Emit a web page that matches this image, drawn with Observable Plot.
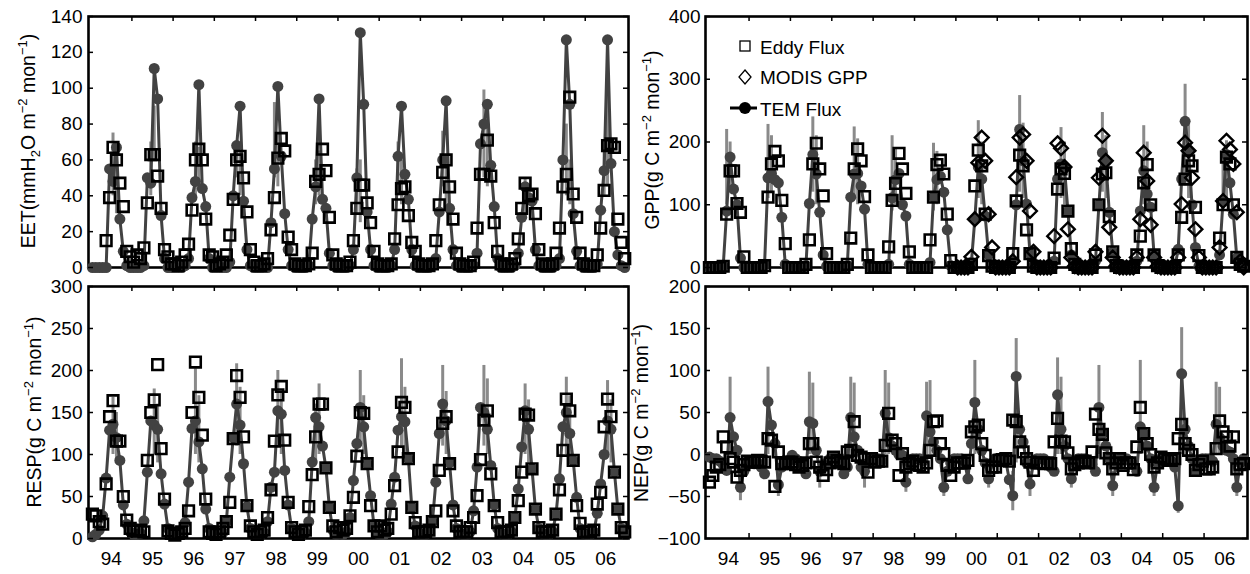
<!DOCTYPE html>
<html><head><meta charset="utf-8">
<script src="https://cdn.jsdelivr.net/npm/d3@7"></script>
<script src="https://cdn.jsdelivr.net/npm/@observablehq/plot@0.6"></script>
<style>
body{margin:0;background:#fff;}
#wrap{position:relative;width:1250px;height:574px;font-family:"Liberation Sans",Arial,Helvetica,sans-serif;color:#000;overflow:hidden}
#wrap svg.plot{position:absolute;overflow:visible}
.ylab{position:absolute;white-space:nowrap;font-size:19.5px;transform:translate(-50%,-50%) rotate(-90deg);line-height:1}
.ylab sup,.ylab sub{font-size:13px}
.leg{position:absolute;font-size:19px;white-space:nowrap;line-height:1}
</style></head><body><div id="wrap"></div>
<script>
const years = [1994,1995,1996,1997,1998,1999,2000,2001,2002,2003,2004,2005,2006];
const yearLabels = ["94","95","96","97","98","99","00","01","02","03","04","05","06"];

// EET (mmH2O m-2 mon-1), monthly Jan..Dec per year
const eetTEM = [
[0,0,0,0,0,55,48,67,27,9,1,0],
[0,0,0,1,50,47,111,94,29,5,0,0],
[0,0,0,1,5,39,48,102,44,34,5,0],
[0,0,0,0,3,40,68,90,37,10,1,0],
[0,0,0,0,25,55,101,62,30,10,1,0],
[0,0,0,1,27,45,94,38,33,8,1,0],
[0,0,0,1,10,50,131,91,31,10,1,0],
[0,0,0,1,10,62,90,52,38,10,1,0],
[0,0,0,1,5,31,60,93,33,10,1,0],
[0,0,0,1,8,69,80,91,57,34,5,0],
[0,0,0,1,8,28,45,39,37,10,1,0],
[0,0,0,1,5,60,127,91,30,9,1,0],
[0,0,0,2,32,54,127,58,20,7,1,0]];
const eetEddy = [
[null,null,null,null,15,39,67,60,47,34,9,6],
[3,7,5,11,36,63,63,51,33,10,6,2],
[2,1,3,7,13,32,60,66,60,27,7,6],
[1,2,3,7,18,38,60,62,50,31,10,3],
[1,1,2,5,21,39,61,72,65,17,10,2],
[1,1,1,2,8,48,52,66,54,28,7,2],
[1,1,1,3,15,33,46,46,36,25,9,2],
[1,1,1,2,16,35,44,45,29,14,9,2],
[1,1,1,2,15,35,53,60,45,27,8,2],
[1,1,1,3,22,52,52,71,51,25,9,2],
[1,1,2,5,16,33,47,40,41,30,10,2],
[1,1,2,8,22,45,52,95,41,28,8,2],
[1,1,1,7,22,43,68,69,67,27,14,5]];
// [year, month, low, high]
const eetBars = [
[1994,7,40,75],[1994,8,30,70],[1995,6,40,70],[1995,7,60,90],[1996,7,40,70],[1996,8,45,67],
[1997,7,50,70],[1997,8,40,65],[1998,6,50,92],[1998,7,45,75],[1999,7,40,65],[1999,6,35,60],
[2000,7,25,60],[2000,6,30,55],[2001,6,40,70],[2001,7,35,60],[2002,7,45,76],[2002,8,35,62],
[2003,7,50,99],[2003,8,45,88],[2004,7,30,50],[2005,7,40,80],[2005,8,35,60],[2006,7,45,96],[2006,6,40,70]];

// GPP (g C m-2 mon-1)
const gppTEM = [
[0,0,0,0,2,90,176,125,100,15,0,0],
[0,0,0,0,5,143,150,140,135,80,5,0],
[0,0,0,0,3,102,180,149,88,20,2,0],
[0,0,0,0,3,112,149,150,130,93,5,0],
[0,0,0,0,5,111,140,150,100,82,5,0],
[0,0,0,0,8,112,140,145,120,60,3,0],
[0,0,0,0,8,77,160,141,82,20,2,0],
[0,0,0,0,10,100,220,170,101,22,2,0],
[0,0,0,0,10,141,165,159,90,20,2,0],
[0,0,0,0,10,100,183,170,88,25,2,0],
[0,0,0,0,10,90,154,117,96,20,2,0],
[0,0,0,0,29,141,233,186,100,32,2,0],
[0,0,0,0,20,106,180,135,85,15,2,0]];
const gppEddy = [
[0,0,0,0,2,85,154,154,102,88,17,0],
[0,0,0,0,3,112,165,185,170,107,38,0],
[0,0,0,0,5,44,165,198,157,114,22,0],
[0,0,0,0,5,47,157,189,170,113,20,0],
[0,0,0,0,33,107,134,182,157,118,25,0],
[0,0,0,0,44,112,164,171,149,85,11,0],
[0,0,0,0,5,130,187,162,85,19,2,0],
[0,0,0,0,22,106,179,162,60,22,2,0],
[0,0,0,0,15,125,157,150,90,30,5,0],
[0,0,0,0,20,100,149,151,81,25,3,0],
[0,0,0,0,20,50,135,164,100,20,3,0],
[0,0,0,0,20,80,141,170,162,96,19,0],
[0,0,0,0,47,100,176,165,100,16,5,2]];
const modisYears = [2000,2001,2002,2003,2004,2005,2006];
const gppMODIS = [
[0,0,0,0,17,77,167,207,170,85,32,0],
[0,0,0,0,10,144,207,212,170,90,25,0],
[0,0,0,0,50,198,190,160,61,16,2,0],
[0,0,0,0,25,143,210,170,64,16,2,0],
[0,0,0,0,16,77,183,138,68,16,2,0],
[0,0,0,0,16,101,199,186,143,61,16,0],
[0,0,0,0,32,106,202,188,165,88,10,0]];
const gppBars = [
[1994,6,100,220],[1994,7,120,200],[1995,6,110,228],[1995,7,120,210],[1996,7,120,240],[1996,8,100,210],
[1997,7,110,224],[1997,8,100,205],[1998,6,90,210],[1998,7,100,190],[1999,6,90,198],[1999,7,100,185],
[2000,7,110,234],[2000,8,100,200],[2001,7,120,274],[2001,8,110,230],[2002,7,110,223],[2002,8,100,200],
[2003,7,120,247],[2003,8,110,210],[2004,7,100,226],[2004,8,90,200],[2005,7,130,292],[2005,8,110,230],
[2006,7,110,202],[2006,6,90,180]];

// RESP (g C m-2 mon-1)
const respTEM = [
[2,5,10,27,72,129,136,120,93,40,17,8],
[5,5,6,21,79,140,135,130,77,41,12,6],
[4,5,8,19,67,131,140,115,83,35,12,6],
[4,5,7,20,73,120,160,135,89,38,12,6],
[4,5,7,20,61,79,152,148,81,40,12,6],
[4,5,7,20,91,144,133,110,84,37,10,5],
[6,5,8,25,69,113,156,133,89,51,15,6],
[5,5,8,41,73,129,145,139,95,37,15,6],
[5,5,8,20,67,125,160,140,90,40,12,6],
[5,5,8,33,85,156,150,130,87,40,12,6],
[5,5,8,25,59,109,152,130,83,35,12,6],
[5,5,8,29,71,133,150,125,93,49,12,6],
[5,5,8,30,65,100,140,130,79,35,12,6]];
const respEddy = [
[29,27,20,17,65,145,164,116,116,50,22,12],
[9,9,10,8,93,150,165,207,107,47,9,6],
[4,6,8,12,33,150,210,168,123,47,8,6],
[5,8,12,20,43,119,194,168,121,39,15,8],
[5,8,10,25,58,116,171,181,117,43,13,8],
[5,8,10,38,76,121,160,160,84,37,15,8],
[13,10,12,27,49,98,150,149,89,39,15,8],
[15,10,12,29,63,103,162,156,95,37,19,8],
[8,8,10,20,33,81,137,145,89,33,15,8],
[8,8,13,25,51,94,141,152,77,39,19,8],
[8,8,10,25,45,79,148,147,83,35,13,8],
[8,8,10,29,58,105,166,152,93,39,18,8],
[8,8,10,41,55,133,166,145,79,35,13,8]];
const respBars = [
[1994,7,100,168],[1994,8,90,150],[1995,7,100,178],[1995,8,90,160],[1996,7,100,202],[1996,8,90,170],
[1997,7,110,208],[1997,8,100,180],[1998,7,110,200],[1998,8,100,175],[1999,7,100,184],[1999,6,90,160],
[2000,7,110,200],[2000,8,100,170],[2001,7,110,214],[2001,8,100,180],[2002,7,110,206],[2002,8,100,175],
[2003,7,110,206],[2003,8,100,190],[2004,7,100,184],[2004,8,90,165],[2005,7,100,192],[2005,8,90,170],
[2006,7,100,188],[2006,8,90,165]];

// NEP (g C m-2 mon-1)
const nepTEM = [
[-3,-5,-5,-8,-12,-19,44,21,5,-39,-20,-8],
[-8,-11,-10,-15,-23,63,35,13,-36,-15,-10,-8],
[-1,-5,-8,-12,-23,39,37,5,-20,-15,-10,-5],
[-3,-5,-8,-23,-15,44,21,5,-15,-20,-10,-5],
[-5,-5,-8,49,20,10,5,0,-1,-33,-10,-5],
[-5,-5,-8,46,27,15,5,-5,-39,-20,-10,-5],
[-5,-5,-8,-29,13,62,30,5,-10,-29,-10,-5],
[-5,-5,-8,-30,-49,93,30,15,-10,-35,-10,-5],
[-5,-5,-8,-15,-20,71,30,10,-5,-29,-10,-5],
[-5,-5,-8,-12,-20,56,25,10,-5,-37,-10,-5],
[-5,-5,-8,-12,-20,33,25,10,-5,-39,-10,-5],
[-5,-5,-8,-15,-61,96,30,10,-5,-20,-10,-5],
[-5,-5,-8,36,20,10,5,3,-5,-39,-10,-5]];
const nepEddy = [
[-33,-25,-15,-12,21,9,-5,-9,-27,-19,-12,-8],
[-9,-9,-7,-8,-9,19,17,-38,3,-11,-11,-9],
[-9,-12,-15,-13,-10,13,13,-9,-15,-25,-18,-10],
[-3,-7,-9,-11,3,5,39,-1,-3,-5,-21,-5],
[-9,-8,-8,11,49,17,13,-25,1,-15,-11,-8],
[-12,-13,-15,-10,5,39,40,13,1,-13,-25,-15],
[-10,-10,-10,-7,27,33,35,13,-1,-19,-15,-15],
[-7,-6,-5,-8,41,39,15,3,-5,-9,-19,-10],
[-10,-11,-10,-11,15,43,16,15,2,-17,-12,-10],
[-8,-8,-10,3,48,30,24,2,-5,-17,-10,-5],
[-13,-10,-10,-18,9,56,25,13,0,-15,-10,-3],
[-5,-7,-7,-5,19,36,13,5,0,-19,-12,-8],
[-17,-17,-15,7,40,27,21,10,21,-17,-12,-11]];
const nepBars = [
[1994,7,0,92],[1994,10,-55,-20],[1995,6,0,104],[1995,9,-50,-20],[1996,6,0,98],[1996,7,0,85],[1996,9,-40,-10],
[1997,6,0,92],[1997,7,0,85],[1997,10,-40,-15],[1998,4,0,100],[1998,5,0,85],[1998,10,-45,-15],
[1999,4,0,86],[1999,5,0,88],[1999,9,-50,-20],[2000,6,0,112],[2000,10,-40,-15],[2001,6,-10,138],
[2001,5,-67,-20],[2001,10,-50,-20],[2002,6,0,115],[2002,7,0,92],[2002,10,-40,-15],[2003,6,0,106],
[2003,10,-50,-20],[2004,6,0,112],[2004,10,-50,-20],[2005,6,0,151],[2005,5,-70,-30],[2006,4,0,86],
[2006,5,0,80],[2006,10,-50,-20]];

const eetTicks = [0,20,40,60,80,100,120,140];
const gppTicks = [0,100,200,300,400];
const respTicks = [0,50,100,150,200,250,300];
const nepTicks = [-100,-50,0,50,100,150,200];

// ---------- helpers ----------
function flat(rows, ys) {
  const out = [];
  rows.forEach((r, i) => r.forEach((v, j) => { if (v != null) out.push({x: ys[i] + (j + 0.5) / 12, y: v}); }));
  return out;
}
function barRows(b) { return b.map(([yr, m, lo, hi]) => ({x: yr + (m - 0.5) / 12, lo, hi})); }

const XD = [1993.947, 2007.05];
const boundaries = years.slice(1).map(y => y);
const mids = years.map(y => y + 0.5);
const labelOf = new Map(mids.map((m, i) => [m, yearLabels[i]]));
const wrap = document.getElementById("wrap");

function panel(o) {
  const plotW = o.width - o.ml - o.mr, plotH = o.height - o.mt - o.mb;
  const [y0, y1] = o.yDomain;
  const ty = 5 / plotH * (y1 - y0), tx = 5 / plotW * (XD[1] - XD[0]);
  const tem = flat(o.tem, years), eddy = flat(o.eddy, years);
  const marks = [
    Plot.frame({stroke: "black", strokeWidth: 2.6}),
    Plot.ruleX(barRows(o.bars), {x: "x", y1: "lo", y2: "hi", stroke: "#8a8a8a", strokeWidth: 3}),
    Plot.line(tem, {x: "x", y: "y", stroke: "#424242", strokeWidth: 3}),
    Plot.dot(tem, {x: "x", y: "y", r: 5.5, fill: "#424242", stroke: "none"}),
    Plot.dot(eddy, {x: "x", y: "y", symbol: "square", r: 6, stroke: "black", strokeWidth: 2.6, fill: "none"})
  ];
  if (o.modis) marks.push(Plot.dot(flat(o.modis, modisYears), {x: "x", y: "y", symbol: "diamond2", r: 6.2, stroke: "black", strokeWidth: 2.4, fill: "none"}));
  marks.push(
    Plot.ruleY(o.yTicks, {x1: XD[0], x2: XD[0] + tx, stroke: "black", strokeWidth: 1.5}),
    Plot.ruleY(o.yTicks, {x1: XD[1] - tx, x2: XD[1], stroke: "black", strokeWidth: 1.5}),
    Plot.ruleX(boundaries, {y1: y0, y2: y0 + ty, stroke: "black", strokeWidth: 1.5}),
    Plot.ruleX(boundaries, {y1: y1 - ty, y2: y1, stroke: "black", strokeWidth: 1.5}),
    Plot.axisY({ticks: o.yTicks, tickSize: 0, tickPadding: o.ypad, fontSize: 19, label: null})
  );
  if (o.xlabels) marks.push(Plot.axisX({ticks: mids, tickSize: 0, tickPadding: 13, fontSize: 19, tickFormat: d => labelOf.get(d), label: null}));
  const svg = Plot.plot({
    width: o.width, height: o.height,
    marginLeft: o.ml, marginRight: o.mr, marginTop: o.mt, marginBottom: o.mb,
    x: {domain: XD, axis: null},
    y: {domain: o.yDomain, axis: null},
    style: {fontFamily: '"Liberation Sans", Arial, sans-serif', fontSize: "19px", color: "black", background: "transparent", overflow: "visible"},
    marks
  });
  svg.classList.add("plot");
  svg.style.left = o.left + "px";
  svg.style.top = o.top + "px";
  wrap.appendChild(svg);
}

panel({left: 0, top: 0, width: 640, height: 275, ml: 88, mr: 12, mt: 16, mb: 8, yDomain: [0, 140], yTicks: eetTicks, ypad: 6,
  tem: eetTEM, eddy: eetEddy, bars: eetBars});
panel({left: 620, top: 0, width: 630, height: 275, ml: 85, mr: 3, mt: 16, mb: 8, yDomain: [0, 400], yTicks: gppTicks, ypad: 5,
  tem: gppTEM, eddy: gppEddy, modis: gppMODIS, bars: gppBars});
panel({left: 0, top: 270, width: 640, height: 304, ml: 88, mr: 12, mt: 16, mb: 36, yDomain: [0, 300], yTicks: respTicks, ypad: 6,
  tem: respTEM, eddy: respEddy, bars: respBars, xlabels: true});
panel({left: 620, top: 270, width: 630, height: 304, ml: 85, mr: 3, mt: 16, mb: 36, yDomain: [-100, 200], yTicks: nepTicks, ypad: 5,
  tem: nepTEM, eddy: nepEddy, bars: nepBars, xlabels: true});

// y-axis titles
function ylab(html, cx, cy) {
  const d = document.createElement("div");
  d.className = "ylab"; d.innerHTML = html;
  d.style.left = cx + "px"; d.style.top = cy + "px";
  wrap.appendChild(d);
}
ylab("EET(mmH<sub>2</sub>O m<sup>−2</sup> mon<sup>−1</sup>)", 29, 141);
ylab("GPP(g C m<sup>−2</sup> mon<sup>−1</sup>)", 651, 140);
ylab("RESP(g C m<sup>−2</sup> mon<sup>−1</sup>)", 33, 412);
ylab("NEP(g C m<sup>−2</sup> mon<sup>−1</sup>)", 640, 413);

// legend (GPP panel)
const leg = document.createElement("div");
leg.innerHTML = `
<svg style="position:absolute;left:725px;top:35px;overflow:visible" width="40" height="90">
  <rect x="15" y="6" width="10" height="10" fill="none" stroke="black" stroke-width="1.3"/>
  <path d="M20,35 L26,42 L20,49 L14,42 Z" fill="none" stroke="black" stroke-width="1.3"/>
  <line x1="5" y1="73" x2="32" y2="73" stroke="black" stroke-width="3"/>
  <circle cx="20" cy="73" r="6" fill="black"/>
</svg>
<div class="leg" style="left:760px;top:38px">Eddy Flux</div>
<div class="leg" style="left:760px;top:68px">MODIS GPP</div>
<div class="leg" style="left:760px;top:100px">TEM Flux</div>`;
wrap.appendChild(leg);
</script></body></html>
